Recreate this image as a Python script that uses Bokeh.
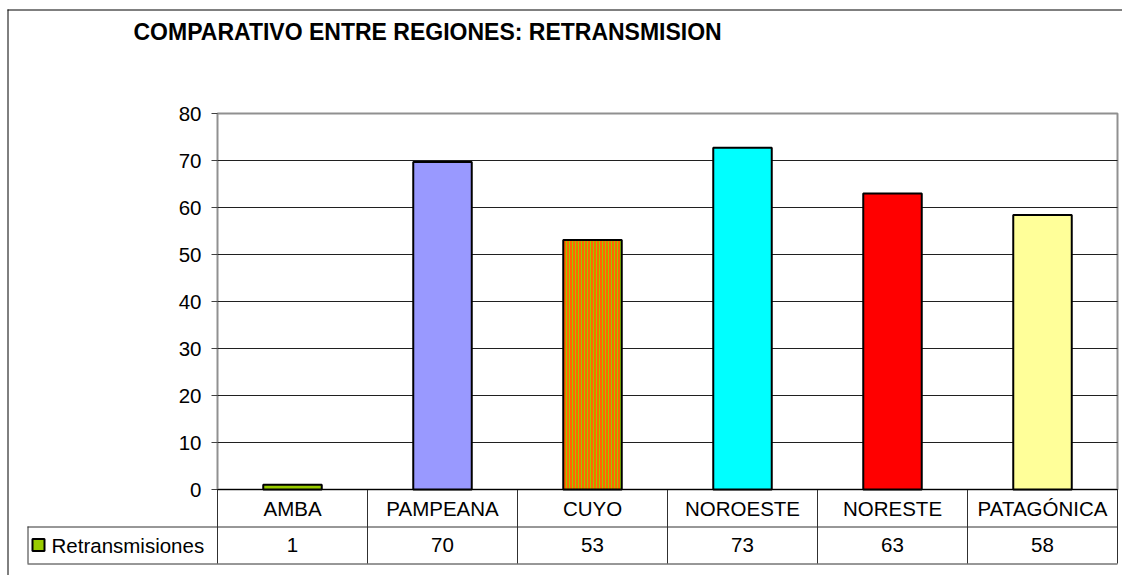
from bokeh.plotting import figure
from bokeh.models import Range1d, ColumnDataSource
from bokeh.embed import file_html
from bokeh.resources import INLINE
from bokeh.core.properties import value

# ---------------- data ----------------
title_text = "COMPARATIVO ENTRE REGIONES: RETRANSMISION"
series_name = "Retransmisiones"
regions = ["AMBA", "PAMPEANA", "CUYO", "NOROESTE", "NORESTE", "PATAGÓNICA"]
retransmisiones = [1.0, 69.7, 53.1, 72.7, 63.0, 58.4]
table_labels = ["1", "70", "53", "73", "63", "58"]
bar_colors = ["#99CC00", "#9999FF", "#FF6600", "#00FFFF", "#FF0000", "#FFFF99"]
bar_hatch = [" ", " ", "|", " ", " ", " "]
y_ticks = [0, 10, 20, 30, 40, 50, 60, 70, 80]
y_tick_labels = [str(t) for t in y_ticks]

# ---------------- layout (page pixels) ----------------
W, H = 1122, 575
ORG = 0
PLOT_L, PLOT_R = 217, 1117
PLOT_T, PLOT_B = 113, 489
Y_MAX = 80
ROW1_B, ROW2_B = 526, 563
TABLE_L = 27
FONT = value("Liberation Sans")
BODY_SIZE = "20.5px"

n = len(regions)
xs = (PLOT_R - PLOT_L) / n
ys = (PLOT_B - PLOT_T) / Y_MAX
x_range = Range1d(-(PLOT_L - ORG) / xs, n + (ORG + W - PLOT_R) / xs)
y_range = Range1d(-(ORG + H - PLOT_B) / ys, Y_MAX + (PLOT_T - ORG) / ys)

p = figure(width=W, height=H, x_range=x_range, y_range=y_range,
           x_axis_type=None, y_axis_type=None,
           output_backend="svg", toolbar_location=None, min_border=0,
           outline_line_color=None, background_fill_color="white",
           border_fill_color="white")
p.extra_x_ranges = {"px": Range1d(ORG, ORG + W)}
p.extra_y_ranges = {"px": Range1d(ORG + H, ORG)}

# outer chart border (left / top visible)
p.segment(x0=[7.5, 7], x1=[7.5, W], y0=[9, 9.5], y1=[H, 9.5],
          x_range_name="px", y_range_name="px", line_color="black", line_width=1)

# plot area border
p.quad(left=[0], right=[n], bottom=[0], top=[Y_MAX], fill_color=None,
       line_color="#909090", line_width=2)

# gridlines
grid_vals = [t for t in y_ticks if t < Y_MAX]
p.segment(x0=[0] * len(grid_vals), x1=[n] * len(grid_vals), y0=grid_vals, y1=grid_vals,
          line_color="#202020", line_width=1)

# tick marks
p.segment(x0=[PLOT_L - 6] * len(y_ticks), x1=[PLOT_L] * len(y_ticks), y0=y_ticks, y1=y_ticks,
          x_range_name="px", line_color="#404040", line_width=1)

# y tick labels
p.text(x=[201] * len(y_ticks), y=y_ticks, text=y_tick_labels, x_range_name="px",
       text_align="right", text_baseline="middle", text_font=FONT,
       text_font_size=BODY_SIZE, text_color="black")

# bars
src = ColumnDataSource(dict(x=[i + 0.5 for i in range(n)], top=retransmisiones,
                            color=bar_colors, hatch=bar_hatch))
p.vbar(x="x", top="top", bottom=0, width=0.39, source=src, fill_color="color",
       line_color="black", line_width=2, hatch_pattern="hatch",
       hatch_color="#99CC00", hatch_scale=3, hatch_weight=1)

# data table lines
bounds = list(range(n + 1))
p.segment(x0=bounds, x1=bounds, y0=[PLOT_B] * len(bounds), y1=[ROW2_B] * len(bounds),
          y_range_name="px", line_color="#303030", line_width=1)
p.segment(x0=[TABLE_L + 0.5, TABLE_L, TABLE_L], x1=[TABLE_L + 0.5, PLOT_R, PLOT_R],
          y0=[ROW1_B, ROW1_B + 0.5, ROW2_B + 0.5], y1=[ROW2_B, ROW1_B + 0.5, ROW2_B + 0.5],
          x_range_name="px", y_range_name="px", line_color="#303030", line_width=1)
p.line(x=[0, n], y=[0, 0], line_color="black", line_width=1)

# category labels
p.text(x=[i + 0.5 for i in range(n)], y=[(PLOT_B + ROW1_B) / 2] * n, text=regions,
       y_range_name="px", text_align="center", text_baseline="middle",
       text_font=FONT, text_font_size=BODY_SIZE, text_color="black")
# value labels
p.text(x=[i + 0.5 for i in range(n)], y=[(ROW1_B + ROW2_B) / 2] * n, text=table_labels,
       y_range_name="px", text_align="center", text_baseline="middle",
       text_font=FONT, text_font_size=BODY_SIZE, text_color="black")

# legend key + series name
p.quad(left=[32], right=[44], top=[538.5], bottom=[550.5], x_range_name="px",
       y_range_name="px", fill_color=bar_colors[0], line_color="black", line_width=2)
p.text(x=[51], y=[(ROW1_B + ROW2_B) / 2], text=[series_name], x_range_name="px",
       y_range_name="px", text_align="left", text_baseline="middle",
       text_font=FONT, text_font_size=BODY_SIZE, text_color="black")

# title
p.text(x=[133], y=[31], text=[title_text], x_range_name="px", y_range_name="px",
       text_align="left", text_baseline="middle", text_font=FONT,
       text_font_size="23px", text_font_style="bold", text_color="black")

open("out.html", "w").write(file_html(p, INLINE))
